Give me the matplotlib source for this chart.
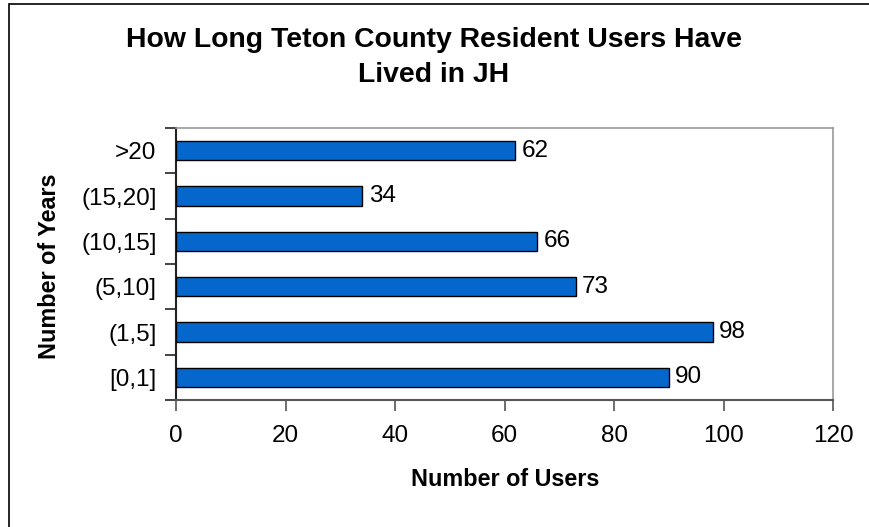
import matplotlib
matplotlib.use("Agg")
import matplotlib.pyplot as plt
from matplotlib.patches import Rectangle
from matplotlib.ticker import FixedLocator

plt.rcParams['font.family'] = ['Liberation Sans', 'DejaVu Sans']

categories = ["[0,1]", "(1,5]", "(5,10]", "(10,15]", "(15,20]", ">20"]
values = [90, 98, 73, 66, 34, 62]
xticks = [0, 20, 40, 60, 80, 100, 120]

W, H = 869, 527
fig = plt.figure(figsize=(W / 100, H / 100), dpi=100)
fig.patch.set_facecolor('white')

# outer chart border (extends beyond the image on right/bottom)
fig.patches.append(Rectangle((9 / W, -0.5), 2.0, 1 - 4 / H + 0.5, transform=fig.transFigure,
                             fill=False, edgecolor='black', linewidth=1.2, zorder=0))

ax = fig.add_axes([176 / W, 1 - 400 / H, (833 - 176) / W, (400 - 128) / H])
ypos = list(range(len(categories)))
ax.barh(ypos, values, height=0.42, color='#0566CC', edgecolor='black', linewidth=1.0, zorder=3)

for y, v in zip(ypos, values):
    ax.text(v + 1.2, y, str(v), va='center', ha='left', fontsize=17.5, color='black')

ax.set_xlim(0, 120)
ax.set_ylim(-0.5, len(categories) - 0.5)
ax.set_xticks(xticks)
ax.set_xticklabels([str(t) for t in xticks])
ax.set_yticks(ypos)
ax.set_yticklabels(categories)
ax.yaxis.set_minor_locator(FixedLocator([i - 0.5 for i in range(len(categories) + 1)]))
ax.tick_params(axis='y', which='major', length=0, pad=14, labelsize=17.5)
ax.tick_params(axis='y', which='minor', length=8, width=1.2, color='#222222', direction='out')
ax.tick_params(axis='x', which='major', length=8, width=1.2, color='#555555', pad=10, labelsize=17.5)

for s in ['top', 'right']:
    ax.spines[s].set_color('#999999')
    ax.spines[s].set_linewidth(1.2)
ax.spines['left'].set_color('#222222')
ax.spines['left'].set_linewidth(1.5)
ax.spines['bottom'].set_color('#555555')
ax.spines['bottom'].set_linewidth(1.5)

fig.text(505 / W, 1 - 480 / H, "Number of Users", ha='center', va='center',
         fontsize=16.8, fontweight='bold')
fig.text(50 / W, 1 - 266 / H, "Number of Years", ha='center', va='center',
         fontsize=16.8, fontweight='bold', rotation=90)
fig.text(434 / W, 1 - 40 / H, "How Long Teton County Resident Users Have", ha='center', va='center',
         fontsize=20.4, fontweight='bold')
fig.text(434 / W, 1 - 75 / H, "Lived in JH", ha='center', va='center',
         fontsize=20.4, fontweight='bold')

fig.savefig("out.png", dpi=100)
